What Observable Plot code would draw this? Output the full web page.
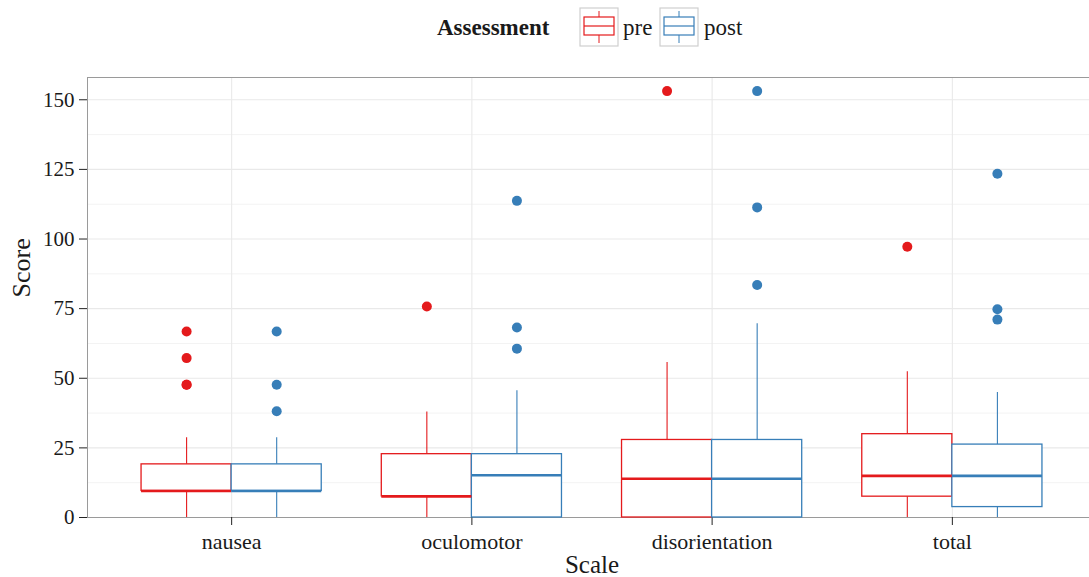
<!DOCTYPE html>
<html>
<head>
<meta charset="utf-8">
<script src="https://cdn.jsdelivr.net/npm/d3@7"></script>
<script src="https://cdn.jsdelivr.net/npm/@observablehq/plot@0.6"></script>
<style>
  html, body { margin: 0; padding: 0; background: #fff; }
  #wrap { position: relative; width: 1089px; height: 577px; font-family: "Liberation Serif", serif; }
  #legend { position: absolute; left: 0; top: 0; }
  #chart { position: absolute; left: 0; top: 0; }
</style>
</head>
<body>
<div id="wrap">
  <div id="chart"></div>
  <svg id="legend" width="1089" height="60"></svg>
</div>
<script>
// ---- data ----
const scales = ["nausea", "oculomotor", "disorientation", "total"];
const assessments = ["pre", "post"];
const colors = ["#E41A1C", "#377EB8"];

const preLower   = [0, 0, 0, 0];
const preQ1      = [9.54, 7.58, 0, 7.48];
const preMedian  = [9.54, 7.58, 13.92, 14.96];
const preQ3      = [19.08, 22.74, 27.84, 29.92];
const preUpper   = [28.62, 37.9, 55.68, 52.36];
const preOutliers = [[66.78, 57.24, 47.7, 47.7], [75.8], [153.12], [97.24]];

const postLower  = [0, 0, 0, 0];
const postQ1     = [9.54, 0, 0, 3.74];
const postMedian = [9.54, 15.16, 13.92, 14.96];
const postQ3     = [19.08, 22.74, 27.84, 26.18];
const postUpper  = [28.62, 45.48, 69.6, 44.88];
const postOutliers = [[66.78, 47.7, 38.16], [68.22, 60.64, 113.7], [153.12, 111.36, 83.52], [123.42, 74.8, 71.06]];

const yTicks = [0, 25, 50, 75, 100, 125, 150];

// ---- build tables ----
const stats = [
  {lower: preLower, q1: preQ1, median: preMedian, q3: preQ3, upper: preUpper, out: preOutliers},
  {lower: postLower, q1: postQ1, median: postMedian, q3: postQ3, upper: postUpper, out: postOutliers}
];
const dodge = 0.375; // box width in category units
const boxes = [];
const outliers = [];
scales.forEach((s, i) => {
  assessments.forEach((a, j) => {
    const st = stats[j];
    const left = (i + 1) + (j - 1) * dodge;
    const right = left + dodge;
    const mid = (left + right) / 2;
    boxes.push({scale: s, assessment: a, left, right, mid,
      lower: st.lower[i], q1: st.q1[i], median: st.median[i], q3: st.q3[i], upper: st.upper[i]});
    st.out[i].forEach(v => outliers.push({scale: s, assessment: a, mid, value: v}));
  });
});

const minorTicks = d3.range(12.5, 158, 25);

const chart = Plot.plot({
  width: 1089,
  height: 577,
  marginLeft: 87,
  marginRight: -7,
  marginTop: 77,
  marginBottom: 60,
  style: {fontFamily: "Liberation Serif, serif", fontSize: "21px", color: "#1a1a1a", background: "transparent"},
  x: {domain: [0.4, 4.6], label: null},
  y: {domain: [0, 158], label: null},
  color: {domain: assessments, range: colors},
  marks: [
    Plot.ruleY(minorTicks, {stroke: "#f3f3f3", strokeWidth: 1}),
    Plot.ruleY(yTicks, {stroke: "#e9e9e9", strokeWidth: 1.1}),
    Plot.ruleX(d3.range(1, scales.length + 1), {stroke: "#e9e9e9", strokeWidth: 1.1}),
    Plot.frame({stroke: "#9a9a9a", strokeWidth: 1}),
    Plot.axisY({ticks: yTicks, tickSize: 8, tickPadding: 5, fontSize: 21, stroke: "#222", label: null}),
    Plot.axisX({ticks: d3.range(1, scales.length + 1), tickFormat: d => scales[d - 1], tickSize: 8, tickPadding: 8, fontSize: 22, stroke: "#222", label: null}),
    // whiskers
    Plot.ruleX(boxes, {x: "mid", y1: "lower", y2: "q1", stroke: "assessment", strokeWidth: 1.1}),
    Plot.ruleX(boxes, {x: "mid", y1: "q3", y2: "upper", stroke: "assessment", strokeWidth: 1.1}),
    // boxes
    Plot.rect(boxes, {x1: "left", x2: "right", y1: "q1", y2: "q3", fill: "white", stroke: "assessment", strokeWidth: 1.3}),
    // medians
    Plot.ruleY(boxes, {x1: "left", x2: "right", y: "median", stroke: "assessment", strokeWidth: 2.6}),
    // outliers
    Plot.dot(outliers, {x: "mid", y: "value", fill: "assessment", r: 5, stroke: null}),
    // axis titles
    Plot.text(["Scale"], {frameAnchor: "bottom", dy: 55, fontSize: 25, fill: "#1a1a1a", lineAnchor: "bottom"}),
    Plot.text(["Score"], {frameAnchor: "left", dx: -66, rotate: -90, fontSize: 26, fill: "#1a1a1a"})
  ]
});
document.getElementById("chart").appendChild(chart);

// ---- legend ----
const lg = d3.select("#legend");
lg.append("text").attr("x", 437).attr("y", 35).attr("font-size", 23).attr("font-weight", "bold")
  .attr("font-family", "Liberation Serif, serif").attr("fill", "#1a1a1a").text("Assessment");
const keyX = [580, 660];
const labX = [623, 704];
assessments.forEach((a, j) => {
  const g = lg.append("g").attr("transform", `translate(${keyX[j]},8)`);
  g.append("rect").attr("x", 0).attr("y", 0).attr("width", 38).attr("height", 38)
    .attr("fill", "white").attr("stroke", "#cfcfcf").attr("stroke-width", 1.2);
  g.append("line").attr("x1", 19).attr("x2", 19).attr("y1", 3).attr("y2", 35).attr("stroke", colors[j]).attr("stroke-width", 1);
  g.append("rect").attr("x", 4).attr("y", 9).attr("width", 30).attr("height", 18)
    .attr("fill", "white").attr("stroke", colors[j]).attr("stroke-width", 1.2);
  g.append("line").attr("x1", 4).attr("x2", 34).attr("y1", 18).attr("y2", 18).attr("stroke", colors[j]).attr("stroke-width", 1.2);
  lg.append("text").attr("x", labX[j]).attr("y", 35).attr("font-size", 23)
    .attr("font-family", "Liberation Serif, serif").attr("fill", "#1a1a1a").text(a);
});
</script>
</body>
</html>
